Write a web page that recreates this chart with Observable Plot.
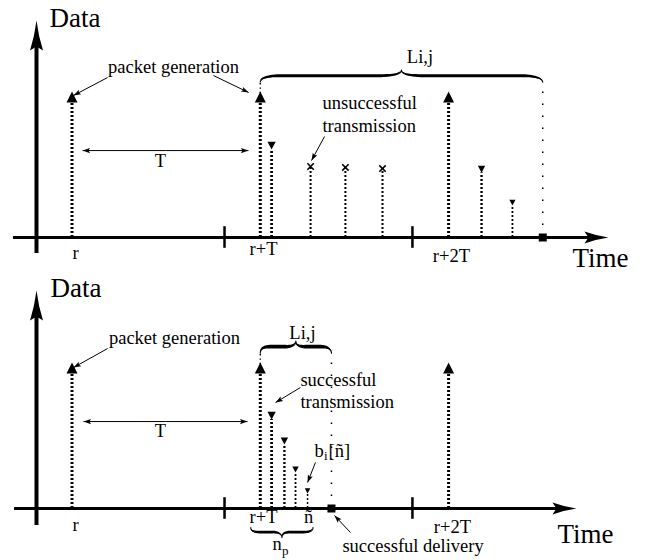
<!DOCTYPE html>
<html><head><meta charset="utf-8">
<script src="https://cdn.jsdelivr.net/npm/d3@7"></script>
<script src="https://cdn.jsdelivr.net/npm/@observablehq/plot@0.6"></script>
<style>body{margin:0;background:#fff;} svg{display:block;}</style>
</head><body><div id="chart"></div>
<script>
// Time is in units of T with r = 0; heights are relative to a packet generation (= 1).
const generationTimes = [0, 1, 2];
const frameTicks = [0.81, 1.808];
const tickLabels = ["r", "r+T", "r+2T"];

// Top panel: unsuccessful case
const topFailTimes = [1.267, 1.452, 1.649];
const topFailHeights = [0.526, 0.519, 0.511];
const topRetxTimes = [1.06, 2.175, 2.339];
const topRetxHeights = [0.652, 0.48, 0.237];
const topDeliveryTime = 2.5;

// Bottom panel: successful case
const botRetxTimes = [1.06, 1.128, 1.187, 1.251];
const botRetxHeights = [0.659, 0.474, 0.267, 0.111];
const botDeliveryTime = 1.378;
const botLastSlotLabel = "ñ";

const SERIF = "'Liberation Serif', 'Times New Roman', serif";
const W = 654, H = 280;
const xDomain = [-0.3797, 3.0935];

// ---------- custom symbols ----------
const upTri = (w, h) => ({draw(c){ c.moveTo(-w/2,0); c.lineTo(w/2,0); c.lineTo(0,-h); c.closePath(); }});
const downTri = (w, h) => ({draw(c){ c.moveTo(0,0); c.lineTo(-w/2,-h); c.lineTo(w/2,-h); c.closePath(); }});
const stealth = (L, Wd, n) => ({draw(c){
  c.moveTo(0,0); c.quadraticCurveTo(Wd*0.14, L*0.5, Wd/2, L); c.lineTo(0, L-n);
  c.lineTo(-Wd/2, L); c.quadraticCurveTo(-Wd*0.14, L*0.5, 0, 0); c.closePath(); }});
const cross = a => ({draw(c){ c.moveTo(-a,-a); c.lineTo(a,a); c.moveTo(a,-a); c.lineTo(-a,a); }});
const square = s => ({draw(c){ c.rect(-s/2,-s/2,s,s); }});

// ---------- brace geometry ----------
function bracePoints(t0, t1, base, depth, q, maxTh) {
  const m = (t0+t1)/2, h = base + depth/2, tip = base + depth, n = 16, pts = [];
  const quad = (p0, c, p1) => { for (let i = 0; i <= n; i++) { const s = i/n;
    pts.push({t:(1-s)**2*p0[0]+2*(1-s)*s*c[0]+s*s*p1[0], v:(1-s)**2*p0[1]+2*(1-s)*s*c[1]+s*s*p1[1]}); } };
  quad([t0,base],[t0,h],[t0+q,h]);
  quad([m-q,h],[m,h],[m,tip]);
  quad([m,tip],[m,h],[m+q,h]);
  quad([t1-q,h],[t1,h],[t1,base]);
  pts.forEach((p, i) => {
    const first = i < pts.length/2;
    const u = first ? (p.t - t0)/(m - t0) : (p.t - m)/(t1 - m);
    p.th = maxTh * Math.pow(Math.max(0, Math.sin(Math.PI*Math.min(1, Math.max(0, u)))), 0.35);
  });
  return pts;
}
function braceMarks(t0, t1, base, depth, maxTh) {
  const w = Math.abs(t1 - t0);
  const pts = bracePoints(t0, t1, base, depth, Math.min(0.14*w, 0.12), maxTh);
  return [
    Plot.areaY(pts, {x:"t", y1:d=>d.v-d.th/2, y2:d=>d.v+d.th/2, fill:"black"}),
    Plot.line(pts, {x:"t", y:"v", stroke:"black", strokeWidth:1.1})
  ];
}

function textMark(a) {
  return Plot.text([a], {x:"t", y:"v", text:"s", fill:"black", fontFamily:SERIF,
    fontSize:a.size || 18.5, textAnchor:a.anchor || "middle", lineAnchor:"bottom",
    lineHeight:1.24, dx:a.dx || 0});
}
// arrow: thin shaft + small filled head, head rotated using the scales' pixel ratios
function arrowMarks(a, kx, ky) {
  const dx = (a.x2 - a.x1)*kx, dy = -(a.y2 - a.y1)*ky;
  const rot = Math.atan2(dx, -dy) * 180 / Math.PI;
  const head = {draw(c){ c.moveTo(0,0); c.lineTo(2.6,7.5); c.lineTo(0,6); c.lineTo(-2.6,7.5); c.closePath(); }};
  return [
    Plot.link([a], {x1:"x1", y1:"y1", x2:"x2", y2:"y2", stroke:"black", strokeWidth:1}),
    Plot.dot([a], {x:"x2", y:"y2", symbol:head, rotate:rot, fill:"black", stroke:"none"})
  ];
}

function panel(cfg) {
  const kx = W/(xDomain[1]-xDomain[0]), ky = H/(cfg.yDomain[1]-cfg.yDomain[0]);
  const gens = generationTimes.map(t => ({t, v:1}));
  const retx = cfg.retxT.map((t, i) => ({t, v:cfg.retxV[i]}));
  const fails = cfg.failT.map((t, i) => ({t, v:cfg.failV[i]}));
  const braceBase = 1.15, braceDepth = 0.09;
  const marks = [
    // axes
    Plot.ruleY([0], {x1:cfg.xStart, x2:cfg.xTip - 0.09, y:0, stroke:"black", strokeWidth:3.2}),
    Plot.dot([{t:cfg.xTip, v:0}], {x:"t", y:"v", symbol:stealth(24, 12, 4), rotate:90, fill:"black", stroke:"none"}),
    Plot.ruleX([cfg.yAxisT], {x:d=>d, y1:cfg.yBottom, y2:cfg.yTip - 0.16, stroke:"black", strokeWidth:4}),
    Plot.dot([{t:cfg.yAxisT, v:cfg.yTip}], {x:"t", y:"v", symbol:stealth(30, 13, 4), fill:"black", stroke:"none"}),
    Plot.ruleX(frameTicks, {x:d=>d, y1:-0.08, y2:0.08, stroke:"black", strokeWidth:2.5}),
    // dotted extensions to brace
    Plot.ruleX([1], {x:d=>d, y1:1, y2:braceBase, stroke:"black", strokeWidth:1.4, strokeDasharray:"1.4,3"}),
    Plot.ruleX([cfg.delivery], {x:d=>d, y1:0, y2:braceBase, stroke:"black", strokeWidth:1.5, strokeDasharray:"1.5,10.5"}),
    // stems
    Plot.ruleX(gens, {x:"t", y1:0, y2:"v", stroke:"black", strokeWidth:3, strokeDasharray:"2,2"}),
    Plot.ruleX(retx, {x:"t", y1:0, y2:"v", stroke:"black", strokeWidth:d=>1.2+2.4*d.v, strokeDasharray:"2,2"}),
    Plot.ruleX(fails, {x:"t", y1:0, y2:"v", stroke:"black", strokeWidth:2, strokeDasharray:"2,2"}),
    // markers
    Plot.dot(gens, {x:"t", y:"v", symbol:upTri(11, 11), fill:"black", stroke:"none"}),
    ...retx.map(d => { const w = 5 + 5*d.v; return Plot.dot([d], {x:"t", y:"v", symbol:downTri(w, w*0.95), fill:"black", stroke:"none"}); }),
    Plot.dot(fails, {x:"t", y:"v", symbol:cross(3.2), fill:"none", stroke:"black", strokeWidth:1.6}),
    Plot.dot([{t:cfg.delivery, v:0}], {x:"t", y:"v", symbol:square(8), fill:"black", stroke:"none"}),
    // brace(s)
    ...braceMarks(1, cfg.delivery, braceBase, braceDepth, 4/ky),
    ...(cfg.underBrace ? braceMarks(cfg.underBrace[0], cfg.underBrace[1], -0.141, -0.074, 3/ky) : []),
    ...cfg.arrows.flatMap(a => arrowMarks(a, kx, ky)),
    ...cfg.texts.map(textMark)
  ];
  return Plot.plot({width:W, height:H, margin:0,
    x:{domain:xDomain, axis:null}, y:{domain:cfg.yDomain, axis:null},
    style:{background:"white", overflow:"visible"}, marks});
}

const topPanel = panel({
  yDomain:[-0.3185, 1.7556],
  retxT:topRetxTimes, retxV:topRetxHeights, failT:topFailTimes, failV:topFailHeights,
  delivery:topDeliveryTime, xStart:-0.311, xTip:2.849, yAxisT:-0.1885, yBottom:-0.119, yTip:1.607,
  arrows:[
    {x1:0.189, y1:1.185, x2:0.008, y2:1.052},
    {x1:0.751, y1:1.2, x2:0.938, y2:1.074},
    {x1:0.497, y1:0.644, x2:0.056, y2:0.644},
    {x1:0.497, y1:0.644, x2:0.937, y2:0.644},
    {x1:1.341, y1:0.748, x2:1.272, y2:0.570}
  ],
  texts:[
    {t:-0.119, v:1.563, s:"Data", size:27, anchor:"start"},
    {t:2.658, v:-0.222, s:"Time", size:27, anchor:"start"},
    {t:0.539, v:1.215, s:"packet generation"},
    {t:0.47, v:0.519, s:"T"},
    {t:1.33, v:0.785, s:"unsuccessful\ntransmission", anchor:"start"},
    {t:1.848, v:1.296, s:"Li,j"},
    {t:0.019, v:-0.156, s:tickLabels[0]},
    {t:1.017, v:-0.126, s:tickLabels[1]},
    {t:2.015, v:-0.185, s:tickLabels[2]}
  ]
});

const bottomPanel = panel({
  yDomain:[-0.3852, 1.6889],
  retxT:botRetxTimes, retxV:botRetxHeights, failT:[], failV:[],
  delivery:botDeliveryTime, xStart:-0.305, xTip:2.679, yAxisT:-0.1885, yBottom:-0.126, yTip:1.615,
  underBrace:[0.95, 1.28],
  arrows:[
    {x1:0.189, y1:1.185, x2:0.008, y2:1.044},
    {x1:0.497, y1:0.644, x2:0.061, y2:0.644},
    {x1:0.497, y1:0.644, x2:0.932, y2:0.644},
    {x1:1.213, y1:0.896, x2:1.081, y2:0.785},
    {x1:1.293, y1:0.341, x2:1.251, y2:0.193},
    {x1:1.479, y1:-0.178, x2:1.394, y2:-0.052}
  ],
  texts:[
    {t:-0.114, v:1.563, s:"Data", size:27, anchor:"start"},
    {t:2.578, v:-0.259, s:"Time", size:27, anchor:"start"},
    {t:0.544, v:1.215, s:"packet generation"},
    {t:0.47, v:0.526, s:"T"},
    {t:1.224, v:1.259, s:"Li,j"},
    {t:1.213, v:0.741, s:"successful\ntransmission", anchor:"start"},
    {t:1.288, v:0.385, s:"b", anchor:"start"},
    {t:1.288, v:0.356, s:"i", anchor:"start", size:13, dx:9.5},
    {t:1.288, v:0.385, s:"[ñ]", anchor:"start", dx:14},
    {t:1.065, v:-0.311, s:"n", anchor:"start"},
    {t:1.065, v:-0.341, s:"p", anchor:"start", size:13, dx:9.5},
    {t:1.436, v:-0.319, s:"successful delivery", anchor:"start"},
    {t:0.019, v:-0.170, s:tickLabels[0]},
    {t:1.017, v:-0.104, s:tickLabels[1]},
    {t:1.256, v:-0.104, s:botLastSlotLabel},
    {t:2.02, v:-0.178, s:tickLabels[2]}
  ]
});

document.getElementById("chart").append(topPanel, bottomPanel);
</script></body></html>
